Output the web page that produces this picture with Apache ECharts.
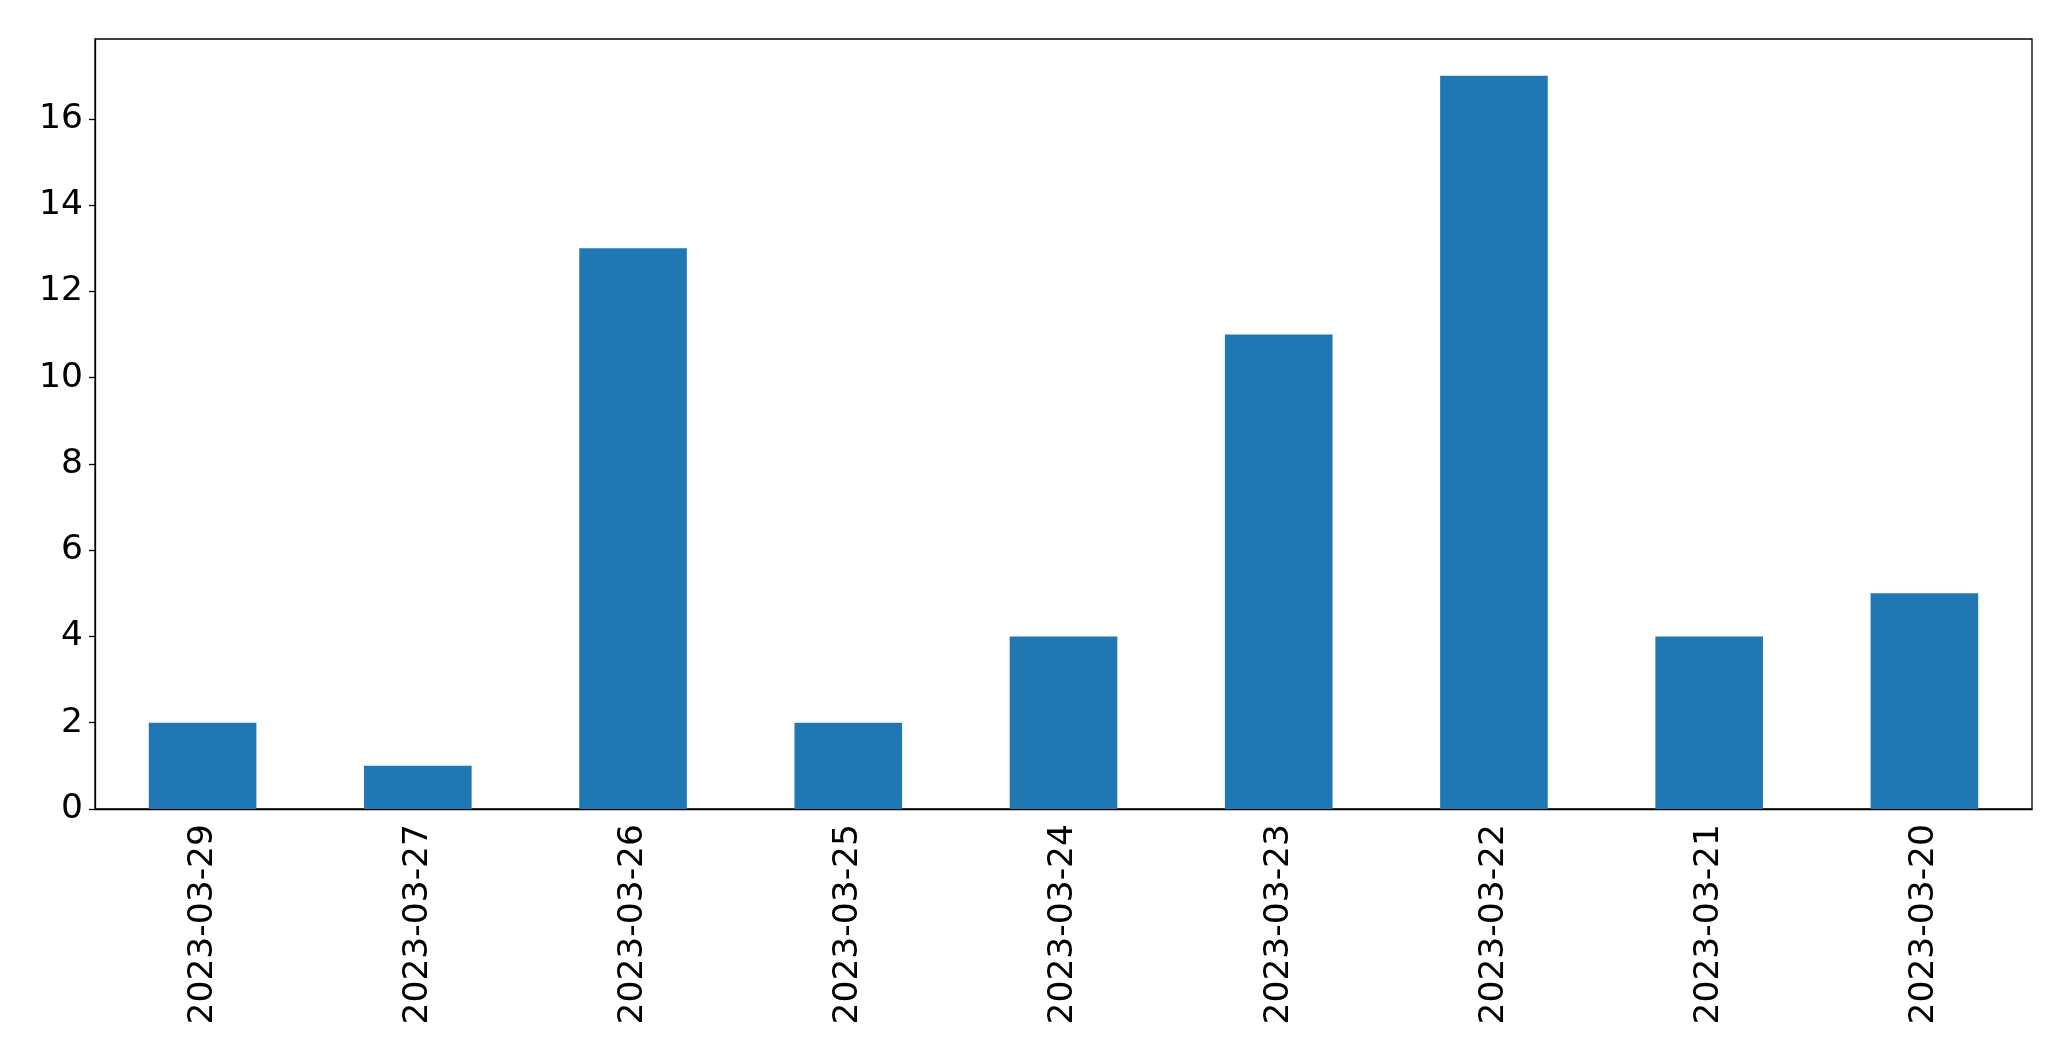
<!DOCTYPE html>
<html>
<head>
<meta charset="utf-8">
<script src="https://cdn.jsdelivr.net/npm/echarts@6/dist/echarts.min.js"></script>
<style>html,body{margin:0;padding:0;background:#fff}#c{width:2071px;height:1061px}</style>
</head>
<body>
<div id="c"></div>
<script>
const categories = ["2023-03-29","2023-03-27","2023-03-26","2023-03-25","2023-03-24","2023-03-23","2023-03-22","2023-03-21","2023-03-20"];
const values = [2, 1, 13, 2, 4, 11, 17, 4, 5];
const yTicks = [0, 2, 4, 6, 8, 10, 12, 14, 16];

const chart = echarts.init(document.getElementById('c'), null, {renderer: 'canvas'});
chart.setOption({
  animation: false,
  backgroundColor: '#ffffff',
  grid: {left: 95, right: 39, top: 39, bottom: 252, show: true, borderColor: '#000', borderWidth: 1.3, backgroundColor: 'transparent'},
  xAxis: {
    type: 'category',
    data: categories,
    axisLine: {lineStyle: {color: '#000', width: 1.3}},
    axisTick: {alignWithLabel: true, length: 6, lineStyle: {color: '#000', width: 1.3}},
    axisLabel: {rotate: 90, color: '#000', fontSize: 34.5, fontFamily: 'DejaVu Sans', margin: 15}
  },
  yAxis: {
    type: 'value',
    min: 0,
    max: 17.85,
    interval: 2,
    splitLine: {show: false},
    axisLine: {show: true, lineStyle: {color: '#000', width: 1.3}},
    axisTick: {show: true, length: 6, customValues: yTicks, lineStyle: {color: '#000', width: 1.3}},
    axisLabel: {color: '#000', fontSize: 34.5, fontFamily: 'DejaVu Sans', margin: 12, customValues: yTicks,
      formatter: function (v) { return yTicks.indexOf(v) >= 0 ? String(v) : ''; }},
  },
  series: [{
    type: 'bar',
    data: values,
    barWidth: '50%',
    itemStyle: {color: '#1f77b4'}
  }]
});
</script>
</body>
</html>
